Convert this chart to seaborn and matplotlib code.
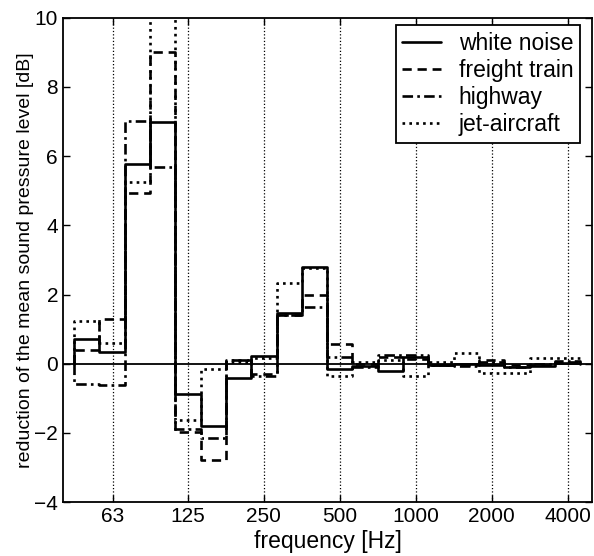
import numpy as np
import pandas as pd
import matplotlib
matplotlib.use("Agg")
import matplotlib.pyplot as plt
import matplotlib.ticker as mticker
import seaborn as sns

# third-octave band centres [Hz]
bands = [50, 63, 80, 100, 125, 160, 200, 250, 315, 400, 500, 630, 800,
         1000, 1250, 1600, 2000, 2500, 3150, 4000]

# reduction of mean SPL per band [dB]
white_noise = [0.72, 0.34, 5.76, 7.0, -0.89, -1.79, -0.41, 0.21, 1.47, 2.79,
               -0.15, -0.06, -0.22, 0.2, -0.05, 0.0, -0.03, -0.1, -0.06, 0.03]
freight_train = [0.41, 1.28, 4.93, 9.01, -1.98, -2.79, 0.1, -0.3, 1.42, 1.98,
                 0.56, 0.0, 0.18, 0.15, -0.05, -0.05, 0.1, -0.05, -0.03, 0.05]
highway = [-0.58, -0.62, 7.03, 5.7, -1.9, -2.14, 0.1, -0.36, 1.4, 1.65,
           0.2, -0.1, 0.24, 0.25, -0.03, -0.08, 0.05, -0.1, 0.0, 0.07]
jet_aircraft = [1.24, 0.61, 5.26, 10.3, -1.63, -0.14, 0.05, 0.17, 2.33, 2.78,
                -0.36, 0.05, 0.1, -0.35, 0.05, 0.32, -0.26, -0.26, 0.17, 0.17]

signals = ["white noise", "freight train", "highway", "jet-aircraft"]
series = [white_noise, freight_train, highway, jet_aircraft]
xticks = [63, 125, 250, 500, 1000, 2000, 4000]

# exact band edges
fc = 1000 * 2 ** (np.round(3 * np.log2(np.array(bands) / 1000)) / 3)
lo = fc * 2 ** (-1 / 6)
hi = fc * 2 ** (1 / 6)

# build step outlines (start and end at 0)
rows = []
for name, vals in zip(signals, series):
    xs = [lo[0]] + list(np.column_stack([lo, hi]).ravel()) + [hi[-1]]
    ys = [0] + list(np.repeat(vals, 2)) + [0]
    rows.append(pd.DataFrame({"f": xs, "v": ys, "signal": name}))
df = pd.concat(rows, ignore_index=True)

sns.set_style("ticks")
plt.rcParams["font.family"] = ["Liberation Sans", "DejaVu Sans"]
plt.rcParams["text.color"] = "black"
plt.rcParams["axes.labelcolor"] = "black"

fig = plt.figure(figsize=(5.94, 5.56), dpi=100)
ax = fig.add_axes([0.106, 0.097, 0.891, 0.871])

dashes = {"white noise": "", "freight train": (3.5, 2.2),
          "highway": (4, 1.6, 1, 1.6), "jet-aircraft": (1, 1.6)}
sns.lineplot(data=df, x="f", y="v", style="signal", style_order=signals,
             dashes=dashes, color="black", linewidth=1.9, estimator=None,
             sort=False, ax=ax)

ax.axhline(0, color="black", linewidth=1.3, zorder=1)
ax.set_xscale("log")
ax.set_xlim(40, 5000)
ax.set_ylim(-4, 10)
ax.set_xticks(xticks)
ax.xaxis.set_major_formatter(mticker.FixedFormatter([str(t) for t in xticks]))
ax.xaxis.set_minor_locator(mticker.NullLocator())
ax.set_yticks(range(-4, 11, 2))
ax.grid(axis="x", which="major", linestyle=":", color="black", linewidth=0.9)
ax.tick_params(direction="in", top=True, right=True, length=5, width=1,
               labelsize=15, colors="black")
for s in ax.spines.values():
    s.set_color("black")
    s.set_linewidth(1.3)

ax.set_xlabel("frequency [Hz]", fontsize=16.5, labelpad=3)
ax.set_ylabel("reduction of the mean sound pressure level [dB]", fontsize=14, labelpad=0)

sns.move_legend(ax, "upper right", bbox_to_anchor=(0.977, 0.9855),
                title=None, fontsize=16.5, frameon=True,
                fancybox=False, edgecolor="black", framealpha=1,
                handlelength=1.7, borderaxespad=0, labelspacing=0.18,
                borderpad=0.3, handletextpad=0.75)
ax.get_legend().get_frame().set_linewidth(1.3)

fig.savefig("out.png", dpi=100)
